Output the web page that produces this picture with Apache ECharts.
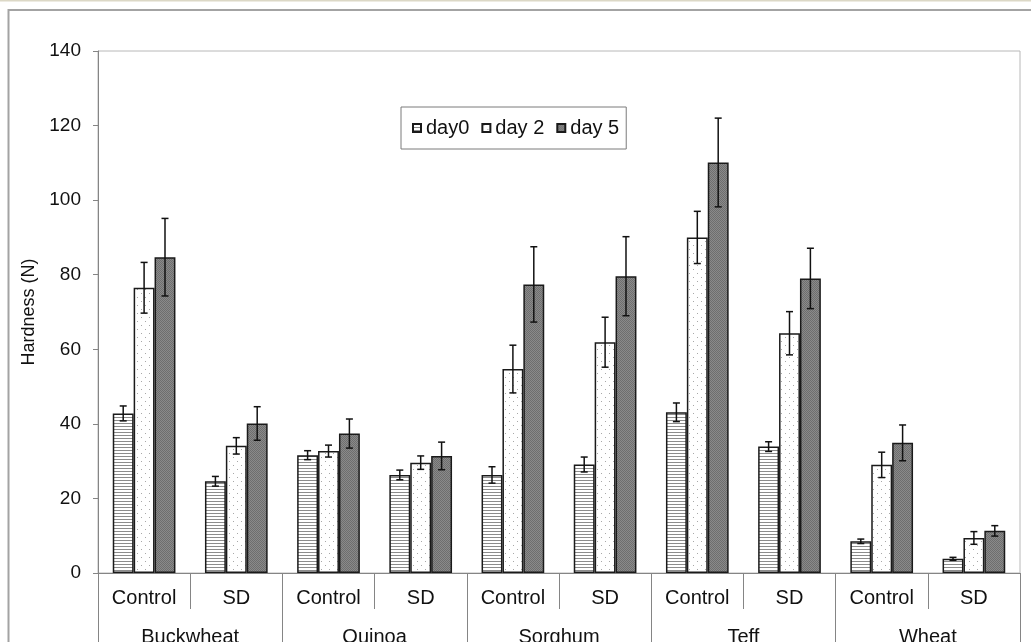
<!DOCTYPE html>
<html>
<head>
<meta charset="utf-8">
<script src="https://cdn.jsdelivr.net/npm/echarts@6/dist/echarts.min.js"></script>
<style>
  html, body { margin: 0; padding: 0; background: #fff; }
  #chart { width: 1031px; height: 642px; }
</style>
</head>
<body>
<div id="chart"></div>
<script>
// data
var categories = ['Control', 'SD', 'Control', 'SD', 'Control', 'SD', 'Control', 'SD', 'Control', 'SD']
var groups = ['Buckwheat', 'Quinoa', 'Sorghum', 'Teff', 'Wheat']
var yTicks = { min: 0, max: 140, step: 20 }

var day0 = [42.8, 24.6, 31.6, 26.3, 26.3, 29.1, 43.1, 33.9, 8.5, 3.8]
var day0Err = [2.0, 1.3, 1.2, 1.3, 2.2, 2.0, 2.5, 1.3, 0.6, 0.4]
var day2 = [76.5, 34.1, 32.7, 29.6, 54.7, 61.9, 90.0, 64.3, 29.0, 9.4]
var day2Err = [6.8, 2.2, 1.6, 1.8, 6.4, 6.7, 7.0, 5.8, 3.4, 1.7]
var day5 = [84.7, 40.1, 37.4, 31.4, 77.4, 79.6, 110.1, 79.0, 34.9, 11.3]
var day5Err = [10.4, 4.5, 3.9, 3.7, 10.1, 10.6, 11.9, 8.1, 4.8, 1.4]

var FONT = "'Liberation Sans', Arial, sans-serif"
var AXIS_GRAY = '#858585'
var GAP = 0.32 // barCategoryGap

// fill patterns, like the excel ones
function makePattern(w, h, draw) {
  var c = document.createElement('canvas')
  c.width = w
  c.height = h
  draw(c.getContext('2d'))
  return { image: c, repeat: 'repeat' }
}
var stripes = makePattern(4, 3, function (ctx) {
  ctx.fillStyle = '#fff'
  ctx.fillRect(0, 0, 4, 3)
  ctx.fillStyle = '#8c8c8c'
  ctx.fillRect(0, 0, 4, 1)
})
var dots = makePattern(8, 8, function (ctx) {
  ctx.fillStyle = '#fff'
  ctx.fillRect(0, 0, 8, 8)
  ctx.fillStyle = '#a8a8a8'
  ctx.fillRect(1, 1, 1, 1)
  ctx.fillRect(5, 5, 1, 1)
})
var hatch = makePattern(2, 2, function (ctx) {
  ctx.fillStyle = '#8a8a8a'
  ctx.fillRect(0, 0, 2, 2)
  ctx.fillStyle = '#6e6e6e'
  ctx.fillRect(0, 0, 1, 1)
  ctx.fillRect(1, 1, 1, 1)
})

function errData(vals, errs) {
  return vals.map(function (v, i) { return [i, v - errs[i], v + errs[i]] })
}

function errSeries(name, vals, errs, k) {
  return {
    name: name + ' err',
    type: 'custom',
    z: 5,
    silent: true,
    renderItem: function (params, api) {
      var x = api.value(0)
      var lo = api.coord([x, api.value(1)])
      var hi = api.coord([x, api.value(2)])
      var band = api.size([1, 0])[0]
      var bw = band * (1 - GAP) / 3
      var cx = lo[0] + (k - 1) * bw
      var cap = 3.5
      var st = { stroke: '#111', lineWidth: 1.5 }
      return {
        type: 'group',
        children: [
          { type: 'line', shape: { x1: cx, y1: lo[1], x2: cx, y2: hi[1] }, style: st },
          { type: 'line', shape: { x1: cx - cap, y1: lo[1], x2: cx + cap, y2: lo[1] }, style: st },
          { type: 'line', shape: { x1: cx - cap, y1: hi[1], x2: cx + cap, y2: hi[1] }, style: st }
        ]
      }
    },
    data: errData(vals, errs)
  }
}

function barSeries(name, vals, fill) {
  return {
    name: name,
    type: 'bar',
    barGap: '0%',
    barCategoryGap: (GAP * 100) + '%',
    itemStyle: { color: fill, borderColor: '#1a1a1a', borderWidth: 1.5 },
    data: vals
  }
}

var chart = echarts.init(document.getElementById('chart'))
chart.setOption({
  animation: false,
  textStyle: { fontFamily: FONT },
  graphic: [
    { type: 'line', z: -10, shape: { x1: 0, y1: 0.5, x2: 1031, y2: 0.5 }, style: { stroke: '#dcd8c6', lineWidth: 2 } },
    { type: 'rect', z: -10, shape: { x: 8.5, y: 10, width: 1100, height: 700 }, style: { fill: null, stroke: '#a3a3a3', lineWidth: 2 } }
  ],
  grid: {
    left: 98, top: 51, right: 11, bottom: 69,
    show: true, borderColor: '#b8b8b8', borderWidth: 1,
    containLabel: false,
    outerBoundsMode: 'none'
  },
  legend: {
    data: ['day0', 'day 2', 'day 5'],
    icon: 'rect',
    left: 401, top: 107,
    padding: [11, 7, 11, 11],
    itemGap: 12,
    itemWidth: 8, itemHeight: 8,
    borderColor: '#7a7a7a', borderWidth: 1,
    textStyle: { fontSize: 20, color: '#111', fontFamily: FONT }
  },
  xAxis: [
    {
      type: 'category',
      data: categories,
      axisLine: { lineStyle: { color: AXIS_GRAY, width: 1 } },
      axisTick: { show: true, interval: 0, length: 36, lineStyle: { color: AXIS_GRAY } },
      axisLabel: { interval: 0, fontSize: 20, color: '#111', margin: 15 }
    },
    {
      type: 'category',
      data: groups,
      position: 'bottom',
      axisLine: { show: false },
      axisTick: { show: true, interval: 0, length: 72, lineStyle: { color: AXIS_GRAY } },
      axisLabel: { interval: 0, fontSize: 20, color: '#111', margin: 54 }
    }
  ],
  yAxis: {
    type: 'value',
    min: yTicks.min, max: yTicks.max, interval: yTicks.step,
    name: 'Hardness (N)',
    nameLocation: 'middle',
    nameRotate: 90,
    nameGap: 58,
    nameTextStyle: { fontSize: 18, color: '#111' },
    axisLine: { show: true, lineStyle: { color: AXIS_GRAY } },
    axisTick: { show: true, length: 5, lineStyle: { color: AXIS_GRAY } },
    axisLabel: { fontSize: 19, color: '#111', margin: 17 },
    splitLine: { show: false }
  },
  series: [
    barSeries('day0', day0, stripes),
    barSeries('day 2', day2, dots),
    barSeries('day 5', day5, hatch),
    errSeries('day0', day0, day0Err, 0),
    errSeries('day 2', day2, day2Err, 1),
    errSeries('day 5', day5, day5Err, 2)
  ]
})
</script>
</body>
</html>
